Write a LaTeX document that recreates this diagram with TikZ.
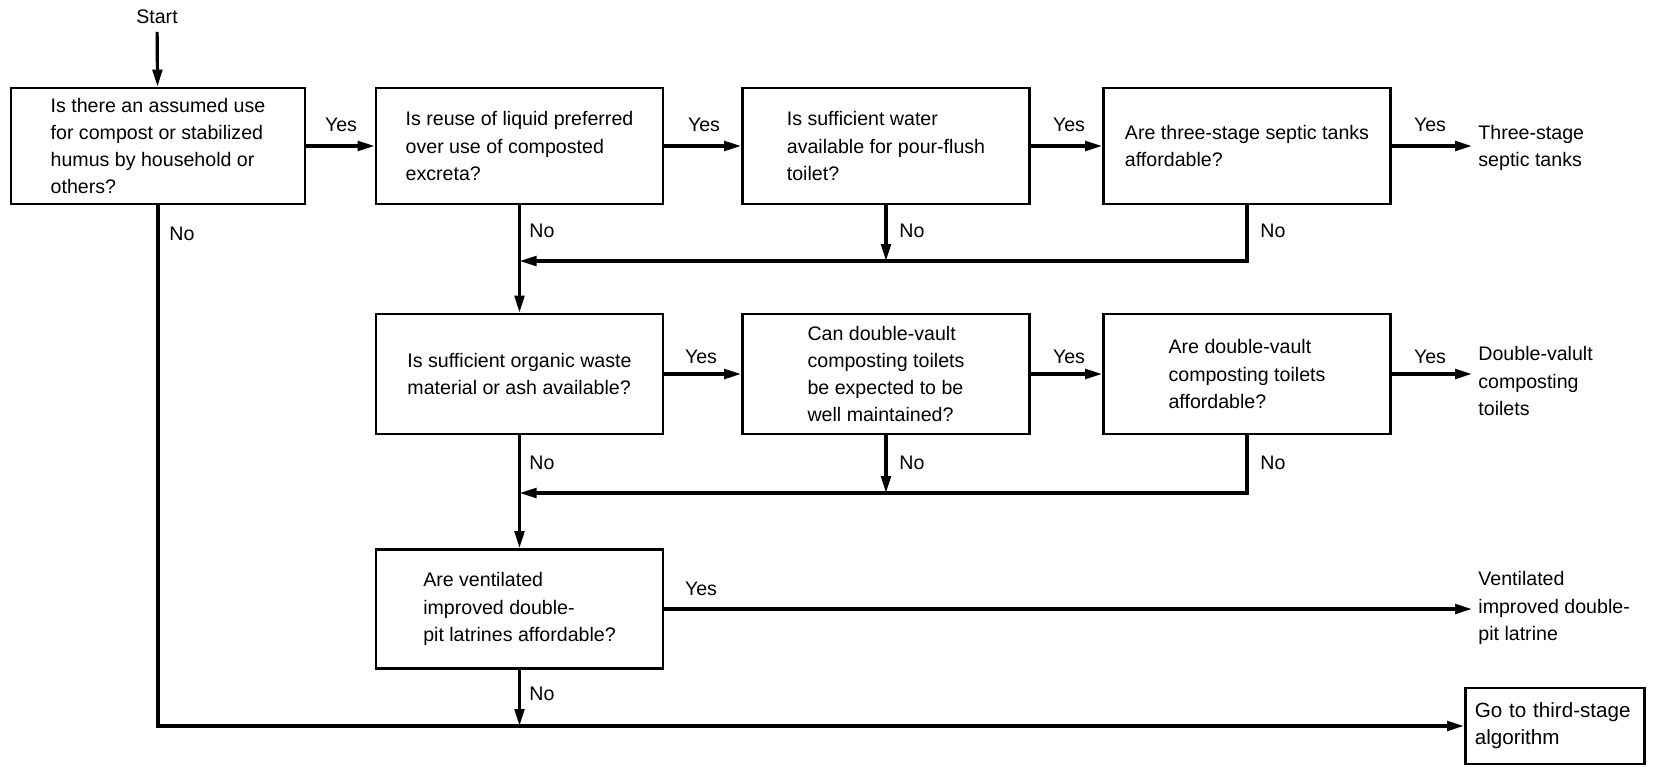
\documentclass[tikz,border=0pt]{standalone}
\usepackage{fontspec}
\setmainfont{Liberation Sans}
\usetikzlibrary{arrows.meta}
\begin{document}
\begin{tikzpicture}[x=0.5pt,y=-0.5pt,
  font=\fontsize{9.8}{13.6}\selectfont,
  qbox/.style={draw,line width=1.3pt,rectangle,align=left,inner sep=0pt,
    minimum width=143.5pt,minimum height=59pt},
  flow/.style={line width=1.6pt,-{Triangle[length=8.5pt,width=4.8pt]}},
  lbl/.style={inner sep=0pt},
  outtxt/.style={align=left,anchor=west,inner sep=3pt}]
\useasboundingbox (0,0) rectangle (1659,766);

% start marker
\node[lbl,outer sep=4pt] (start) at (157,17) {Start};

% first row of questions
\node[qbox,minimum width=147pt,minimum height=58pt] (b1) at (158,146)
  {Is there an assumed use\\for compost or stabilized\\humus by household or\\others?};
\node[qbox,minimum height=58pt] (b2) at (519.5,146)
  {Is reuse of liquid preferred\\over use of composted\\excreta?};
\node[qbox,minimum height=58pt] (b3) at (886,146)
  {Is sufficient water\\available for pour-flush\\toilet?};
\node[qbox,minimum height=58pt] (b4) at (1247,146)
  {Are three-stage septic tanks\\affordable?};

% second row
\node[qbox,minimum height=60pt] (b5) at (519.5,374)
  {Is sufficient organic waste\\material or ash available?};
\node[qbox,minimum height=60pt] (b6) at (886,374)
  {Can double-vault\\composting toilets\\be expected to be\\well maintained?};
\node[qbox,minimum height=60pt] (b7) at (1247,374)
  {Are double-vault\\composting toilets\\affordable?};

% third row
\node[qbox,minimum height=59.5pt] (b8) at (519.5,609)
  {Are ventilated\\improved double-\\pit latrines affordable?};

% outcomes
\node[outtxt] (o1) at (1472,148) {Three-stage\\septic tanks};
\node[outtxt] (o2) at (1472,381) {Double-valult\\composting\\toilets};
\node[outtxt] (o3) at (1472,608) {Ventilated\\improved double-\\pit latrine};
\node[draw,line width=1.3pt,align=left,anchor=west,inner xsep=4.75pt,inner ysep=0pt,
  text width=80pt,minimum height=38pt,font=\fontsize{10.3}{13.6}\selectfont]
  (b9) at (1464,726)
  {Go to third-stage\\algorithm};

% junction points on the collecting lines
\coordinate (m1) at (519.5,261);
\coordinate (m2) at (519.5,493);
\coordinate (m3) at (519.5,726);

% connectors
\draw[flow] (start) -- (b1);
\draw[flow] (b1) -- (b2);
\draw[flow] (b2) -- (b3);
\draw[flow] (b3) -- (b4);
\draw[flow] (b4) -- (b4 -| o1.west);

\draw[flow] (b2.south) -- (b5.north);
\draw[flow] (b3.south) -- (b3.south |- m1);
\draw[flow] (b4.south) -- (b4.south |- m1) -- (m1);

\draw[flow] (b5) -- (b6);
\draw[flow] (b6) -- (b7);
\draw[flow] (b7) -- (b7 -| o2.west);

\draw[flow] (b5.south) -- (b8.north);
\draw[flow] (b6.south) -- (b6.south |- m2);
\draw[flow] (b7.south) -- (b7.south |- m2) -- (m2);

\draw[flow] (b8) -- (b8 -| o3.west);
\draw[flow] (b8.south) -- (m3);
\draw[flow] (b1.south) |- (b9.west);

% branch labels
\node[lbl] (y1) at (341,125) {Yes};
\node[lbl] (y2) at (704,125) {Yes};
\node[lbl] (y3) at (1069,125) {Yes};
\node[lbl] (y4) at (1430,125) {Yes};
\node[lbl] (y5) at (701,357) {Yes};
\node[lbl] (y6) at (1069,357) {Yes};
\node[lbl] (y7) at (1430,357) {Yes};
\node[lbl] (y8) at (701,589) {Yes};

\node[lbl] (n1) at (182,234) {No};
\node[lbl] (n2) at (542,231) {No};
\node[lbl] (n3) at (912,231) {No};
\node[lbl] (n4) at (1273,231) {No};
\node[lbl] (n5) at (542,463) {No};
\node[lbl] (n6) at (912,463) {No};
\node[lbl] (n7) at (1273,463) {No};
\node[lbl] (n8) at (542,694) {No};
\end{tikzpicture}
\end{document}
